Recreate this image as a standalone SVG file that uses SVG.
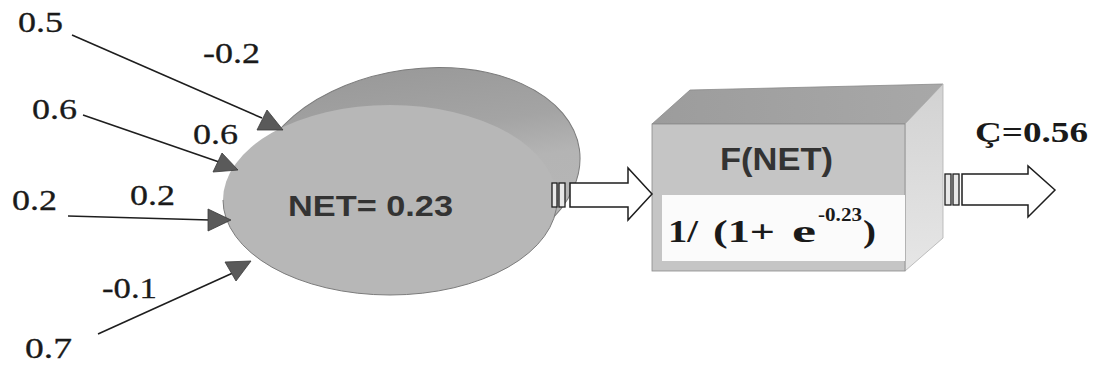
<svg xmlns="http://www.w3.org/2000/svg" width="1101" height="367" viewBox="0 0 1101 367">
  <style>
    .lbl { font-family: "Liberation Serif", "Times New Roman", serif; font-size: 29px; fill: #1a1a1a; stroke: #1a1a1a; stroke-width: 0.3; }
    .sans { font-family: "Liberation Sans", Arial, sans-serif; font-weight: bold; fill: #333; }
    .serifb { font-family: "Liberation Serif", "Times New Roman", serif; font-weight: bold; fill: #1a1a1a; }
    .wire { stroke: #1e1e1e; stroke-width: 1.6; fill: none; }
    .head { fill: #5a5a5a; stroke: #3a3a3a; stroke-width: 0.8; }
    .fat { fill: #ffffff; stroke: #1e1e1e; stroke-width: 1.5; stroke-linejoin: miter; }
    .bar { fill: #e8e8e8; stroke: #1e1e1e; stroke-width: 1.3; }
  </style>
  <defs>
    <linearGradient id="backShade" x1="0" y1="0" x2="0" y2="1">
      <stop offset="0" stop-color="#9a9a9a"/>
      <stop offset="0.3" stop-color="#a4a4a4"/>
      <stop offset="0.5" stop-color="#b4b4b4"/>
      <stop offset="1" stop-color="#b7b7b7"/>
    </linearGradient>
    <linearGradient id="sideShade" x1="0" y1="0" x2="0" y2="1">
      <stop offset="0" stop-color="#d2d2d2"/>
      <stop offset="1" stop-color="#e6e6e6"/>
    </linearGradient>
    <linearGradient id="topShade" x1="0" y1="0" x2="1" y2="0">
      <stop offset="0" stop-color="#9c9c9c"/>
      <stop offset="1" stop-color="#a8a8a8"/>
    </linearGradient>
  </defs>

  <rect width="1101" height="367" fill="#ffffff"/>

  <!-- weighted inputs -->
  <g id="inputs">
    <text class="lbl" x="18" y="32" textLength="45" lengthAdjust="spacingAndGlyphs">0.5</text>
    <text class="lbl" x="203" y="63" textLength="57" lengthAdjust="spacingAndGlyphs">-0.2</text>
    <text class="lbl" x="32" y="119" textLength="45" lengthAdjust="spacingAndGlyphs">0.6</text>
    <text class="lbl" x="193" y="144" textLength="45" lengthAdjust="spacingAndGlyphs">0.6</text>
    <text class="lbl" x="12" y="210" textLength="45" lengthAdjust="spacingAndGlyphs">0.2</text>
    <text class="lbl" x="130" y="205" textLength="45" lengthAdjust="spacingAndGlyphs">0.2</text>
    <text class="lbl" x="102" y="298" textLength="55" lengthAdjust="spacingAndGlyphs">-0.1</text>
    <text class="lbl" x="25" y="358" textLength="47" lengthAdjust="spacingAndGlyphs">0.7</text>
  </g>

  <!-- summation node -->
  <g id="net">
    <ellipse cx="418" cy="172" rx="163" ry="103" transform="rotate(-8 418 172)" fill="url(#backShade)" stroke="#7c7c7c" stroke-width="1"/>
    <ellipse cx="390" cy="200" rx="167" ry="95" fill="#b7b7b7"/>
    <path d="M 223 200 A 167 95 0 0 0 557 200" fill="none" stroke="#7c7c7c" stroke-width="1"/>
    <text class="sans" x="288" y="216" font-size="30" textLength="165" lengthAdjust="spacingAndGlyphs">NET= 0.23</text>
  </g>

  <!-- activation block -->
  <g id="activation">
    <polygon points="652,124 690,90 943,84 905,124" fill="url(#topShade)" stroke="#8a8a8a" stroke-width="0.8"/>
    <polygon points="905,124 943,84 943,238 905,271" fill="url(#sideShade)" stroke="#b0b0b0" stroke-width="0.8"/>
    <rect x="652" y="124" width="253" height="147" fill="#c5c5c5" stroke="#8a8a8a" stroke-width="0.8"/>
    <rect x="662" y="195" width="243" height="66" fill="#fbfbfb"/>
    <text class="sans" x="720" y="170" font-size="32" textLength="113" lengthAdjust="spacingAndGlyphs">F(NET)</text>
    <text class="serifb" x="668" y="242" font-size="32" textLength="30" lengthAdjust="spacingAndGlyphs">1/</text>
    <text class="serifb" x="713" y="242" font-size="32" textLength="62" lengthAdjust="spacingAndGlyphs">(1+</text>
    <text class="serifb" x="792" y="242" font-size="32" textLength="24" lengthAdjust="spacingAndGlyphs">e</text>
    <text class="serifb" x="818" y="221" font-size="19" textLength="44" lengthAdjust="spacingAndGlyphs">-0.23</text>
    <text class="serifb" x="863" y="242" font-size="32" textLength="13" lengthAdjust="spacingAndGlyphs">)</text>
  </g>

  <!-- output label -->
  <g id="output">
    <text class="serifb" x="975" y="142" font-size="30" textLength="113" lengthAdjust="spacingAndGlyphs">Ç=0.56</text>
  </g>

  <!-- connectors -->
  <g id="connectors">
    <line class="wire" x1="72" y1="35" x2="262" y2="118"/>
    <polygon class="head" points="267,110 257,130 283,130"/>
    <line class="wire" x1="83" y1="115" x2="222" y2="163"/>
    <polygon class="head" points="222,153 213,172 238,170"/>
    <line class="wire" x1="68" y1="216" x2="210" y2="220"/>
    <polygon class="head" points="208,209 208,231 231,220"/>
    <line class="wire" x1="98" y1="334" x2="235" y2="272"/>
    <polygon class="head" points="225,262 251,261 236,281"/>

    <rect class="bar" x="552" y="183" width="5" height="24"/>
    <rect class="bar" x="559" y="183" width="6" height="24"/>
    <polygon class="fat" points="570,183 628,183 628,168 652,194 628,220 628,207 570,207"/>

    <rect class="bar" x="945" y="174" width="6" height="31"/>
    <rect class="bar" x="953" y="174" width="6" height="31"/>
    <polygon class="fat" points="962,174 1028,174 1028,166 1055,190 1028,217 1028,205 962,205"/>
  </g>
</svg>
